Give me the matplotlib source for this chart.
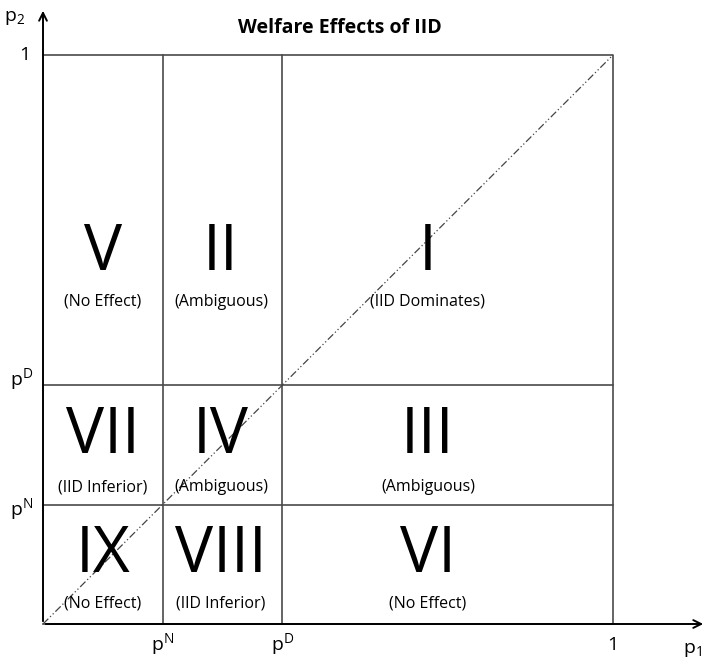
import matplotlib
matplotlib.use('Agg')
import matplotlib.pyplot as plt

# thresholds on both axes
p_N = 0.21
p_D = 0.42

# regions: rows top->bottom, columns left->right
numerals = [['V', 'II', 'I'],
            ['VII', 'IV', 'III'],
            ['IX', 'VIII', 'VI']]
labels = [['(No Effect)', '(Ambiguous)', '(IID Dominates)'],
          ['(IID Inferior)', '(Ambiguous)', '(Ambiguous)'],
          ['(No Effect)', '(IID Inferior)', '(No Effect)']]
title = 'Welfare Effects of IID'

plt.rcParams['font.family'] = ['Open Sans', 'DejaVu Sans']

W, H = 709, 660
x0, y0 = 43, 624          # origin in pixels
sx, sy = 570.0, 569.0     # pixels per unit

fig = plt.figure(figsize=(W / 100, H / 100), dpi=100)
ax = fig.add_axes([0, 0, 1, 1])
ax.set_xlim(-x0 / sx, (W - x0) / sx)
ax.set_ylim(-(H - y0) / sy, y0 / sy)
ax.axis('off')

grid_col = '#4a4a4a'
# frame + threshold lines
ax.plot([0, 1, 1, 0], [1, 1, 0, 0], color=grid_col, lw=1.2)
for v in (p_N, p_D):
    ax.plot([v, v], [0, 1], color=grid_col, lw=1.2)
    ax.plot([0, 1], [v, v], color=grid_col, lw=1.2)

# diagonal
ax.plot([0, 1], [0, 1], color='#444444', lw=0.9, dashes=(6, 2, 1, 2, 1, 2))

# axes with arrows
ax.annotate('', xy=(0, (y0 - 8) / sy), xytext=(0, 0),
            arrowprops=dict(arrowstyle='->', lw=1.4, color='black', mutation_scale=14))
ax.annotate('', xy=((706 - x0) / sx, 0), xytext=(0, 0),
            arrowprops=dict(arrowstyle='->', lw=1.4, color='black', mutation_scale=14))

# tick labels
fs = 14
ax.text(p_N, -21 / sy, r'p$^{\mathregular{N}}$', ha='center', va='center', fontsize=fs)
ax.text(p_D, -21 / sy, r'p$^{\mathregular{D}}$', ha='center', va='center', fontsize=fs)
ax.text(1, -21 / sy, '1', ha='center', va='center', fontsize=fs)
ax.text((692 - x0) / sx, -26 / sy, r'p$_{\mathregular{1}}$', ha='center', va='center', fontsize=fs)
ax.text(-13 / sx, 1, '1', ha='right', va='center', fontsize=fs)
ax.text(-10 / sx, p_D + 5 / sy, r'p$^{\mathregular{D}}$', ha='right', va='center', fontsize=fs)
ax.text(-10 / sx, p_N - 5 / sy, r'p$^{\mathregular{N}}$', ha='right', va='center', fontsize=fs)
ax.text(-28 / sx, (y0 - 18) / sy, r'p$_{\mathregular{2}}$', ha='center', va='center', fontsize=fs)

ax.text((340 - x0) / sx, (y0 - 28) / sy, title, ha='center', va='center',
        fontsize=14, fontweight='bold')

# region text
col_x = [103, 221, 428]
row_num_y = [253, 436, 555]
row_lab_y = [302, 487, 604]
for r in range(3):
    for c in range(3):
        ax.text((col_x[c] - x0) / sx, (y0 - row_num_y[r]) / sy, numerals[r][c],
                ha='center', va='center', fontsize=46)
        ax.text((col_x[c] - x0) / sx, (y0 - row_lab_y[r]) / sy, labels[r][c],
                ha='center', va='center', fontsize=11.5)

fig.savefig('out.png', dpi=100)
